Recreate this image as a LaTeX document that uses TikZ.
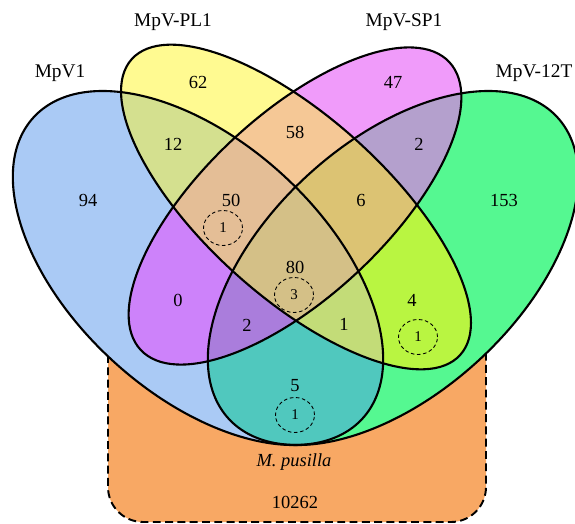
\documentclass[tikz,border=0pt]{standalone}
\usepackage{fontspec}
\setmainfont{Liberation Serif}
\usepackage{tikz}
\usetikzlibrary{shapes.geometric,backgrounds}
\definecolor{host}{RGB}{248,168,100}
\definecolor{cV}{RGB}{170,202,245}
\definecolor{cPL}{RGB}{255,250,145}
\definecolor{cSP}{RGB}{240,155,250}
\definecolor{cT}{RGB}{85,248,145}
\definecolor{cVPL}{RGB}{212,224,143}
\definecolor{cPLSP}{RGB}{245,200,150}
\definecolor{cSPT}{RGB}{180,160,205}
\definecolor{cVSP}{RGB}{205,130,250}
\definecolor{cPLT}{RGB}{185,245,65}
\definecolor{cVT}{RGB}{80,200,190}
\definecolor{cVPLSP}{RGB}{228,190,150}
\definecolor{cPLSPT}{RGB}{220,195,115}
\definecolor{cVSPT}{RGB}{170,125,220}
\definecolor{cVPLT}{RGB}{195,220,120}
\definecolor{cAll}{RGB}{212,192,135}
\newcommand{\ellV}{(198,-268) ellipse [x radius=223, y radius=126, rotate=-42.5]}
\newcommand{\ellPL}{(296,-207) ellipse [x radius=221, y radius=90, rotate=-42]}
\newcommand{\ellSP}{(295,-206) ellipse [x radius=211, y radius=91, rotate=43]}
\newcommand{\ellT}{(393,-268) ellipse [x radius=223, y radius=126, rotate=42.5]}
\newcommand{\inter}[3]{\begin{scope}#1\fill[#2] #3 ;\end{scope}}
\newcommand{\countat}[3]{\node[count] (#1) at #2 {#3} ;}
\newcommand{\hostat}[3]{\node[hostmark] (#1) at #2 {#3} ;}

\begin{document}
\begin{tikzpicture}[x=0.02cm,y=0.02cm,
    count/.style={font=\fontsize{10.5}{12}\selectfont, inner sep=0pt},
    setlabel/.style={font=\fontsize{11}{13}\selectfont, anchor=base, inner sep=0pt},
    hostmark/.style={ellipse, draw, line width=0.5pt, dash pattern=on 2pt off 1.5pt,
      minimum width=0.78cm, minimum height=0.7cm, inner sep=0pt, font=\fontsize{8.5}{10}\selectfont},
    outline/.style={draw=black, line width=1.2pt}]
    \useasboundingbox (0,0) rectangle (575,-524);
    % host genome box
    \draw[fill=host, line width=1.1pt, dash pattern=on 4.5pt off 2.5pt, rounded corners=0.7cm]
        (108,-320) rectangle (486,-522);
    % single sets
    \fill[cV] \ellV;
    \fill[cPL] \ellPL;
    \fill[cSP] \ellSP;
    \fill[cT] \ellT;
    % pairs
    \inter{\clip \ellV;}{cVPL}{\ellPL}
    \inter{\clip \ellV;}{cVSP}{\ellSP}
    \inter{\clip \ellV;}{cVT}{\ellT}
    \inter{\clip \ellPL;}{cPLSP}{\ellSP}
    \inter{\clip \ellPL;}{cPLT}{\ellT}
    \inter{\clip \ellSP;}{cSPT}{\ellT}
    % triples
    \inter{\clip \ellV; \clip \ellPL;}{cVPLSP}{\ellSP}
    \inter{\clip \ellV; \clip \ellPL;}{cVPLT}{\ellT}
    \inter{\clip \ellV; \clip \ellSP;}{cVSPT}{\ellT}
    \inter{\clip \ellPL; \clip \ellSP;}{cPLSPT}{\ellT}
    % all four
    \inter{\clip \ellV; \clip \ellPL; \clip \ellSP;}{cAll}{\ellT}
    % outlines
    \draw[outline] \ellV;
    \draw[outline] \ellPL;
    \draw[outline] \ellSP;
    \draw[outline] \ellT;
    % set names
    \node[setlabel] (lV) at (60,-77) {MpV1};
    \node[setlabel] (lPL) at (173,-27) {MpV-PL1};
    \node[setlabel] (lSP) at (404,-27) {MpV-SP1};
    \node[setlabel] (lT) at (534,-77) {MpV-12T};
    % counts
    \countat{n94}{(88,-200)}{94}
    \countat{n62}{(198,-82)}{62}
    \countat{n12}{(173,-144)}{12}
    \countat{n50}{(231,-200)}{50}
    \countat{n58}{(295,-132)}{58}
    \countat{n47}{(393,-82)}{47}
    \countat{n2a}{(419,-144)}{2}
    \countat{n6}{(361,-200)}{6}
    \countat{n153}{(504,-200)}{153}
    \countat{n80}{(295,-267)}{80}
    \countat{n0}{(178,-300)}{0}
    \countat{n2b}{(247,-325)}{2}
    \countat{n1}{(344,-324)}{1}
    \countat{n4}{(412,-300)}{4}
    \countat{n5}{(295,-386)}{5}
    % shared with host
    \hostat{h50}{(223,-228)}{1}
    \hostat{h80}{(294,-295)}{3}
    \hostat{h4}{(418,-337)}{1}
    \hostat{h5}{(295,-415)}{1}
    \node[count] (host) at (294,-462) {\textit{M. pusilla}};
    \countat{n10262}{(295,-502)}{10262}
\end{tikzpicture}
\end{document}
